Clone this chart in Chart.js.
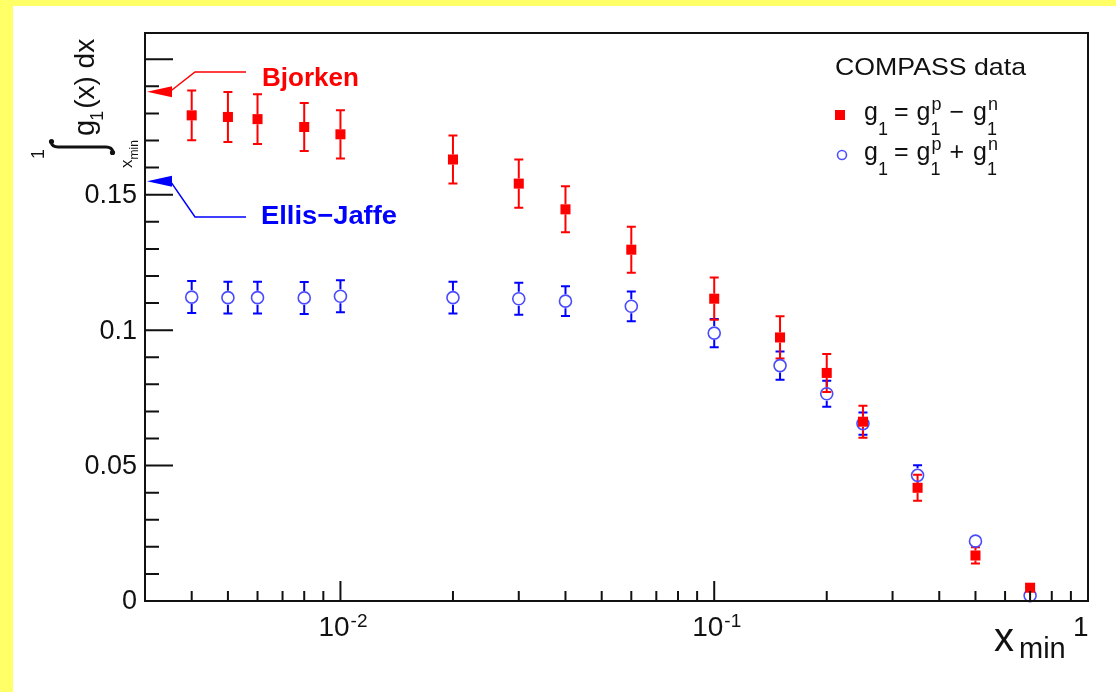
<!DOCTYPE html>
<html>
<head>
<meta charset="utf-8">
<script src="https://cdn.jsdelivr.net/npm/chart.js@4.4.1/dist/chart.umd.min.js"></script>
<style>
html, body { margin: 0; padding: 0; background: #fff; }
canvas { display: block; }
</style>
</head>
<body>
<canvas id="sumChart" width="1116" height="692"></canvas>
<script>
// x_min values of the truncated first moment
const xMinValues = [0.004, 0.005, 0.006, 0.008, 0.01, 0.02, 0.03, 0.04, 0.06, 0.1, 0.15, 0.2, 0.25, 0.35, 0.5, 0.7];

// g1 = g1p - g1n (red squares)
const nonSinglet = [0.1793, 0.1787, 0.1779, 0.1750, 0.1723, 0.1630, 0.1541, 0.1446, 0.1297, 0.1116, 0.0973, 0.0842, 0.0662, 0.0418, 0.0168, 0.0049];
const nonSingletErr = [0.0092, 0.0092, 0.0092, 0.0089, 0.0089, 0.0089, 0.0089, 0.0085, 0.0085, 0.0078, 0.0078, 0.0070, 0.0059, 0.0048, 0.0030, 0.0010];

// g1 = g1p + g1n (blue open circles)
const singlet = [0.1122, 0.1120, 0.1120, 0.1119, 0.1125, 0.1120, 0.1116, 0.1107, 0.1088, 0.0989, 0.0869, 0.0765, 0.0655, 0.0464, 0.0221, 0.0020];
const singletErr = [0.0059, 0.0059, 0.0059, 0.0059, 0.0059, 0.0059, 0.0059, 0.0055, 0.0055, 0.0052, 0.0052, 0.0048, 0.0041, 0.0037, 0.0015, 0.0007];

// sum rule predictions marked on the y axis
const bjorkenSum = 0.188;
const ellisJaffeSum = 0.155;

// axis ticks
const yMajorTicks = [0, 0.05, 0.1, 0.15, 0.2];
const yTickLabels = ['0', '0.05', '0.1', '0.15', ''];
const xMajorTicks = [0.01, 0.1, 1];
const xTickBase = ['10', '10', '1'];
const xTickExp = ['-2', '-1', ''];

const RED = '#ff0000';
const BLUE = '#0000ff';
const FONT = '"Liberation Sans", Arial, Helvetica, sans-serif';

const toPoints = (ys) => xMinValues.map((x, i) => ({ x: x, y: ys[i] }));

// draw text squeezed/stretched to a given width
const fitText = (ctx, text, x, y, font, width) => {
    ctx.save();
    ctx.font = font;
    const w = ctx.measureText(text).width;
    ctx.translate(x, y);
    ctx.scale(width / w, 1);
    ctx.fillText(text, 0, 0);
    ctx.restore();
};

// rotated text, running upward from (x, y); x is the baseline
const rotText = (ctx, text, x, y, font) => {
    ctx.save();
    ctx.translate(x, y);
    ctx.rotate(-Math.PI / 2);
    ctx.font = font;
    ctx.textAlign = 'left';
    ctx.textBaseline = 'alphabetic';
    ctx.fillText(text, 0, 0);
    const w = ctx.measureText(text).width;
    ctx.restore();
    return w;
};

const drawErrorBars = (chart, index, errs, color, gap) => {
    const ctx = chart.ctx;
    const yScale = chart.scales.y;
    const meta = chart.getDatasetMeta(index);
    const values = chart.data.datasets[index].data;
    ctx.save();
    ctx.strokeStyle = color;
    ctx.lineWidth = 2;
    meta.data.forEach((pt, i) => {
        const x = pt.x, y = pt.y;
        const top = yScale.getPixelForValue(values[i].y + errs[i]);
        const bottom = yScale.getPixelForValue(values[i].y - errs[i]);
        ctx.beginPath();
        if (top < y - gap) {
            ctx.moveTo(x, top); ctx.lineTo(x, y - gap);
            ctx.moveTo(x - 4.5, top); ctx.lineTo(x + 4.5, top);
        }
        if (bottom > y + gap) {
            ctx.moveTo(x, y + gap); ctx.lineTo(x, bottom);
            ctx.moveTo(x - 4.5, bottom); ctx.lineTo(x + 4.5, bottom);
        }
        ctx.stroke();
    });
    ctx.restore();
};

const drawArrow = (ctx, tipX, tipY, elbowX, elbowY, endX, color) => {
    ctx.save();
    ctx.strokeStyle = color;
    ctx.fillStyle = color;
    ctx.lineWidth = 1.5;
    ctx.beginPath();
    ctx.moveTo(tipX, tipY);
    ctx.lineTo(tipX + 25, tipY - 5.5);
    ctx.lineTo(tipX + 25, tipY + 5.5);
    ctx.closePath();
    ctx.fill();
    ctx.beginPath();
    ctx.moveTo(tipX + 24, tipY + (elbowY > tipY ? 1 : -1));
    ctx.lineTo(elbowX, elbowY);
    ctx.lineTo(endX, elbowY);
    ctx.stroke();
    ctx.restore();
};

// integral sign of the rotated y title, lying along the axis direction
const drawIntegral = (ctx, x0, x1, y) => {
    ctx.save();
    ctx.strokeStyle = '#111';
    ctx.fillStyle = '#111';
    ctx.lineWidth = 3;
    ctx.lineCap = 'round';
    ctx.beginPath();
    ctx.moveTo(x0 + 1, y - 5);
    ctx.quadraticCurveTo(x0 + 2, y, x0 + 8, y);
    ctx.lineTo(x1 - 8, y);
    ctx.quadraticCurveTo(x1 - 2, y, x1 - 1, y + 5);
    ctx.stroke();
    ctx.beginPath();
    ctx.arc(x0 + 1.5, y - 5.5, 2.6, 0, Math.PI * 2);
    ctx.arc(x1 - 1.5, y + 5.5, 2.6, 0, Math.PI * 2);
    ctx.fill();
    ctx.restore();
};

const legendRow = (ctx, x, y, op) => {
    const big = '25px ' + FONT;
    const small = '18px ' + FONT;
    let cx = x;
    const put = (t, f, dy, at) => {
        ctx.font = f;
        ctx.fillText(t, at, y + dy);
        return ctx.measureText(t).width;
    };
    cx += put('g', big, 0, cx);
    cx += put('1', small, 15, cx) + 6;
    cx += put('=', big, 0, cx) + 8;
    cx += put('g', big, 0, cx);
    const wp = put('p', small, -10.5, cx + 1);
    const w1 = put('1', small, 15, cx);
    cx += Math.max(wp, w1) + 9;
    cx += put(op, big, 0, cx) + 9;
    cx += put('g', big, 0, cx);
    put('n', small, -10.5, cx + 1);
    put('1', small, 15, cx);
};

const rootStyle = {
    id: 'rootStyle',
    beforeDraw(chart) {
        const ctx = chart.ctx;
        ctx.save();
        ctx.fillStyle = '#ffff66';
        ctx.fillRect(0, 0, chart.width, chart.height);
        ctx.fillStyle = '#ffffff';
        ctx.fillRect(13, 6, chart.width - 13, chart.height - 6);
        ctx.restore();
    },
    beforeDatasetsDraw(chart) {
        drawErrorBars(chart, 1, singletErr, BLUE, 7);
        drawErrorBars(chart, 0, nonSingletErr, RED, 5);
    },
    afterDatasetsDraw(chart) {
        const ctx = chart.ctx;
        const a = chart.chartArea;
        const xs = chart.scales.x;
        const ys = chart.scales.y;

        ctx.save();
        ctx.strokeStyle = '#111';
        ctx.fillStyle = '#111';

        // frame
        ctx.lineWidth = 2;
        ctx.strokeRect(a.left, a.top, a.right - a.left, a.bottom - a.top);

        // y ticks (inside)
        ctx.lineWidth = 2;
        ctx.beginPath();
        for (let k = 0; k <= 21; k++) {
            const v = k / 100;
            const py = ys.getPixelForValue(v);
            if (py < a.top + 1) continue;
            const major = k % 5 === 0;
            ctx.moveTo(a.left, py);
            ctx.lineTo(a.left + (major ? 28 : 14), py);
        }
        // x ticks (inside)
        for (let d = -3; d <= 0; d++) {
            for (let m = 1; m <= 9; m++) {
                const v = m * Math.pow(10, d);
                if (v < 0.0031 || v > 1.0001) continue;
                const px = xs.getPixelForValue(v);
                if (px > a.right - 1) continue;
                ctx.moveTo(px, a.bottom);
                ctx.lineTo(px, a.bottom - (m === 1 ? 20 : 10));
            }
        }
        ctx.stroke();

        // y tick labels
        ctx.font = '27px ' + FONT;
        ctx.textAlign = 'right';
        ctx.textBaseline = 'middle';
        yMajorTicks.forEach((v, i) => {
            ctx.fillText(yTickLabels[i], 137, ys.getPixelForValue(v) + 1);
        });

        // x tick labels
        ctx.textBaseline = 'alphabetic';
        ctx.textAlign = 'left';
        xMajorTicks.forEach((v, i) => {
            const px = xs.getPixelForValue(v);
            ctx.font = '28px ' + FONT;
            const wb = ctx.measureText(xTickBase[i]).width;
            ctx.font = '19px ' + FONT;
            const we = ctx.measureText(xTickExp[i]).width;
            let left = px - (wb + we) / 2 + 2;
            if (xTickExp[i] === '') left = 1073;
            ctx.font = '28px ' + FONT;
            ctx.fillText(xTickBase[i], left, 636);
            ctx.font = '19px ' + FONT;
            ctx.fillText(xTickExp[i], left + wb + 1, 627);
        });

        // x axis title
        ctx.font = '40px ' + FONT;
        ctx.fillText('x', 994, 651);
        ctx.font = '29px ' + FONT;
        ctx.fillText('min', 1019, 658);

        // y axis title: integral from x_min to 1 of g1(x) dx
        const wg = rotText(ctx, 'g', 94, 136, '29px ' + FONT);
        const w1 = rotText(ctx, '1', 103, 136 - wg + 1, '18px ' + FONT);
        rotText(ctx, '(x) dx', 94, 136 - wg - w1 - 1, '28px ' + FONT);
        drawIntegral(ctx, 50, 114, 147);
        rotText(ctx, '1', 44, 159, '18px ' + FONT);
        const wx = rotText(ctx, 'x', 132, 168, '17px ' + FONT);
        rotText(ctx, 'min', 138, 168 - wx, '12px ' + FONT);

        // sum rule arrows
        drawArrow(ctx, a.left + 2, ys.getPixelForValue(bjorkenSum), 195, 72, 246, RED);
        drawArrow(ctx, a.left + 2, ys.getPixelForValue(ellisJaffeSum), 195, 217, 246, BLUE);
        ctx.fillStyle = RED;
        fitText(ctx, 'Bjorken', 262, 86, 'bold 26px ' + FONT, 97);
        ctx.fillStyle = BLUE;
        fitText(ctx, 'Ellis\u2212Jaffe', 261, 224, 'bold 26px ' + FONT, 136);

        // legend
        ctx.fillStyle = '#111';
        fitText(ctx, 'COMPASS data', 835, 75, '24px ' + FONT, 191);
        ctx.fillStyle = RED;
        ctx.fillRect(835, 110, 10, 10);
        ctx.strokeStyle = '#5050ff';
        ctx.lineWidth = 1.6;
        ctx.beginPath();
        ctx.arc(842, 155, 4.5, 0, Math.PI * 2);
        ctx.stroke();
        ctx.fillStyle = '#111';
        legendRow(ctx, 864, 120, '\u2212');
        legendRow(ctx, 864, 160, '+');

        ctx.restore();
    }
};

document.addEventListener('DOMContentLoaded', function() {
    const ctx = document.getElementById('sumChart');
    new Chart(ctx.getContext('2d'), {
        type: 'scatter',
        data: {
            datasets: [
                {
                    label: 'g1 = g1p - g1n',
                    data: toPoints(nonSinglet),
                    pointStyle: 'rect',
                    pointRadius: 7.1,
                    backgroundColor: RED,
                    borderColor: RED,
                    borderWidth: 0,
                    clip: false
                },
                {
                    label: 'g1 = g1p + g1n',
                    data: toPoints(singlet),
                    pointStyle: 'circle',
                    pointRadius: 6,
                    backgroundColor: 'rgba(0,0,0,0)',
                    borderColor: '#4a4aff',
                    borderWidth: 1.6,
                    clip: false
                }
            ]
        },
        options: {
            responsive: false,
            animation: false,
            layout: {
                padding: { left: 145, top: 33, right: 28, bottom: 91 }
            },
            scales: {
                x: { type: 'logarithmic', min: 0.003, max: 1, display: false },
                y: { type: 'linear', min: 0, max: 0.2097, display: false }
            },
            plugins: {
                legend: { display: false },
                tooltip: { enabled: false }
            }
        },
        plugins: [rootStyle]
    });
});
</script>
</body>
</html>
